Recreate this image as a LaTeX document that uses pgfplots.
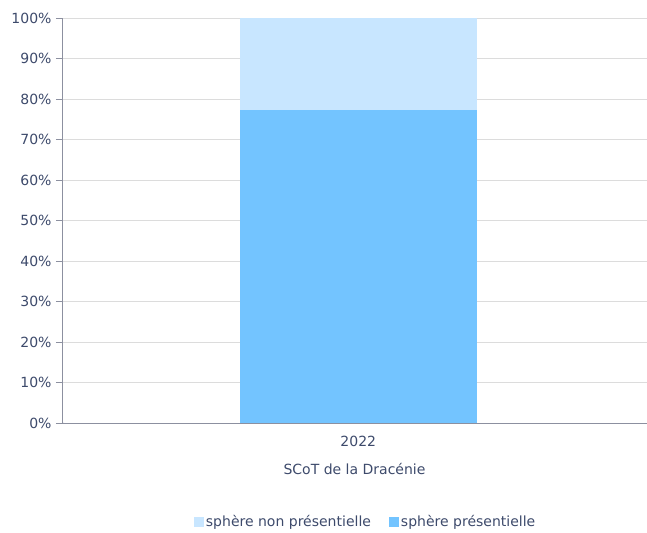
\documentclass[border=0pt]{standalone}
\usepackage{pgfplots}
\pgfplotsset{compat=1.18}
\usepackage{fontspec}
\setmainfont{DejaVu Sans}
\definecolor{txt}{HTML}{3D4A6B}
\definecolor{axc}{HTML}{8C90A0}
\definecolor{gridc}{HTML}{DCDCDC}
\definecolor{pres}{HTML}{73C4FF}
\definecolor{nonpres}{HTML}{C8E6FF}
\begin{document}
\begin{tikzpicture}[font=\fontsize{14bp}{16bp}\selectfont, text=txt]
\useasboundingbox (-62bp,-110bp) rectangle (585bp,423bp);
\begin{axis}[
  at={(0,0)}, anchor=south west,
  scale only axis, width=585bp, height=405bp,
  ybar stacked, bar width=237bp,
  xmin=-1.013, xmax=0.987,
  ymin=0, ymax=100,
  ytick={0,10,...,100},
  yticklabels={0\%,10\%,20\%,30\%,40\%,50\%,60\%,70\%,80\%,90\%,100\%},
  xtick={0}, xticklabels={2022},
  /pgf/number format/assume math mode=true,
  x tick style={draw=none},
  y tick style={draw=axc, line width=0.8pt},
  tick align=outside, major tick length=6bp,
  ymajorgrids, grid style={gridc, line width=0.8pt},
  axis x line*=bottom, axis y line*=left,
  axis line style={axc, line width=0.8pt, -},
  tick label style={text=txt, font=\fontsize{14bp}{16bp}\selectfont},
  yticklabel style={xshift=-1bp},
  xticklabel style={yshift=-4bp},
  xlabel={SCoT de la Dracénie},
  xlabel style={text=txt, yshift=-9bp},
  legend columns=2, legend reversed,
  legend style={draw=none, fill=none, at={(0.519,-0.244)}, anchor=center, font=\fontsize{14bp}{16bp}\selectfont, text=txt,
    /tikz/every even column/.append style={column sep=16bp}},
  legend image code/.code={\fill[#1] (0bp,-5bp) rectangle (10bp,5bp);},
]
\addplot[fill=pres, draw=none] coordinates {(0,77.3)};
\addlegendentry{sphère présentielle}
\addplot[fill=nonpres, draw=none] coordinates {(0,22.7)};
\addlegendentry{sphère non présentielle}
\draw[axc, line width=0.8pt] (rel axis cs:0,0) -- ++(0,-55bp);
\end{axis}
\end{tikzpicture}
\end{document}
